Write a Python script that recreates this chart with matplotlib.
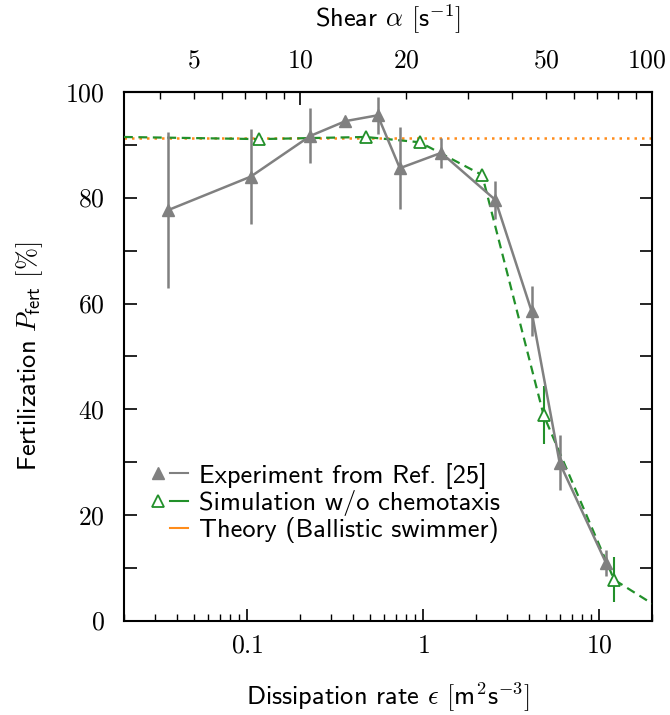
import matplotlib
matplotlib.use('Agg')
import matplotlib.pyplot as plt
from matplotlib.lines import Line2D
from matplotlib.legend_handler import HandlerTuple
from matplotlib.transforms import ScaledTranslation

plt.rcParams['mathtext.fontset'] = 'cm'
plt.rcParams['font.family'] = ['cmss10', 'DejaVu Sans']
plt.rcParams['axes.unicode_minus'] = False

# experiment (gray filled triangles)
exp_eps = [0.0358, 0.105, 0.229, 0.363, 0.553, 0.739, 1.27, 2.58, 4.14, 5.98, 10.96]
exp_val = [77.7, 84.0, 91.7, 94.5, 95.6, 85.6, 88.5, 79.6, 58.6, 29.9, 11.0]
exp_err = [14.8, 9.0, 5.2, 0.8, 3.5, 7.7, 2.8, 3.6, 4.8, 5.2, 2.5]

# simulation w/o chemotaxis (green open triangles, dashed), line runs to the axis edges
sim_eps = [0.02, 0.117, 0.472, 0.96, 2.17, 4.85, 12.2, 20.0]
sim_val = [91.5, 91.1, 91.5, 90.5, 84.3, 38.9, 7.8, 3.3]
sim_err = [0.0, 0.5, 0.5, 0.5, 0.8, 5.5, 4.3, 0.0]

# theory (ballistic swimmer)
theo_eps = [0.02, 20.0]
theo_val = [91.3, 91.3]

gray = '#808080'
green = '#22902a'
orange = '#ff8c1a'
fs = 19
tfs = 18.5

fig = plt.figure(figsize=(6.7, 7.15), dpi=100)
ax = fig.add_axes([0.185, 0.1315, 0.788, 0.7398])

ax.plot(theo_eps, theo_val, color=orange, lw=1.8, ls=(0, (1, 2)), zorder=1)
ax.errorbar(sim_eps[1:-1], sim_val[1:-1], yerr=sim_err[1:-1], fmt='none', ecolor=green, elinewidth=1.5, zorder=2)
ax.plot(sim_eps, sim_val, color=green, lw=1.6, ls=(0, (4, 2.5)), marker='^', ms=9,
        mfc='white', mec=green, mew=1.3, markevery=list(range(1, len(sim_eps) - 1)), zorder=3)
ax.errorbar(exp_eps, exp_val, yerr=exp_err, fmt='none', ecolor=gray, elinewidth=1.8, zorder=4)
ax.plot(exp_eps, exp_val, color=gray, lw=1.8, marker='^', ms=9, mfc=gray, mec=gray, zorder=5)

ax.set_xscale('log')
ax.set_xlim(0.02, 20)
ax.set_ylim(0, 100)

ax.set_xticks([0.1, 1, 10], labels=['$0.1$', '$1$', '$10$'])
ax.set_yticks([0, 20, 40, 60, 80, 100], labels=['$0$', '$20$', '$40$', '$60$', '$80$', '$100$'])
ax.set_yticks(range(10, 100, 20), minor=True)
ax.tick_params(axis='x', which='major', direction='in', length=9, width=1.2, labelsize=tfs, pad=10, top=False)
ax.tick_params(axis='x', which='minor', direction='in', length=5, width=1.0, top=False)
ax.tick_params(axis='y', which='both', direction='in', length=9, width=1.2, labelsize=tfs, pad=14, right=True)
for s in ax.spines.values():
    s.set_linewidth(1.5)

def eps2alpha(e):
    return (e * 500.0) ** 0.5

def alpha2eps(a):
    return a ** 2 / 500.0

sec = ax.secondary_xaxis('top', functions=(eps2alpha, alpha2eps))
sec.set_xticks([10, 100], labels=['$10$', '$100$'])
minor_al = [4, 5, 6, 7, 8, 9, 20, 30, 40, 50, 60, 70, 80, 90]
minor_lab = ['$%d$' % a if a in (5, 20, 50) else '' for a in minor_al]
sec.set_xticks(minor_al, labels=minor_lab, minor=True)
sec.tick_params(which='major', direction='in', length=9, width=1.2, labelsize=tfs, pad=14)
sec.tick_params(which='minor', direction='in', length=5, width=1.0, labelsize=tfs, pad=14)
sec.spines['top'].set_linewidth(1.5)
sec.set_xlabel(r'Shear $\alpha$ $[\mathsf{s}^{-1}]$', fontsize=fs, labelpad=16)

# pull the "100" label on top a little inside the figure
t100 = sec.xaxis.get_major_ticks()[1]
t100.label2.set_transform(t100.label2.get_transform() + ScaledTranslation(-4 / 72, 0, fig.dpi_scale_trans))

ax.set_xlabel(r'Dissipation rate $\epsilon$ $[\mathsf{m}^2\mathsf{s}^{-3}]$', fontsize=fs, labelpad=16)
ax.set_ylabel(r'Fertilization $P_{\mathsf{fert}}$ $[\%]$', fontsize=fs, labelpad=14)

none = Line2D([], [], ls='none')
h_exp = (Line2D([], [], ls='none', marker='^', ms=9, color=gray),
         Line2D([], [], color=gray, lw=1.5))
h_sim = (Line2D([], [], ls='none', marker='^', ms=9, mfc='white', mec=green, mew=1.3),
         Line2D([], [], color=green, lw=1.5))
h_theo = (none, Line2D([], [], color=orange, lw=1.5))
ax.legend([h_exp, h_sim, h_theo],
          ['Experiment from Ref. [25]', 'Simulation w/o chemotaxis', 'Theory (Ballistic swimmer)'],
          handler_map={tuple: HandlerTuple(ndivide=None, pad=0.1)},
          loc='center left', bbox_to_anchor=(0.027, 0.223), frameon=False, fontsize=fs,
          handlelength=1.5, handletextpad=0.4, labelspacing=0.05, borderaxespad=0)

fig.savefig('out.png', dpi=100)
